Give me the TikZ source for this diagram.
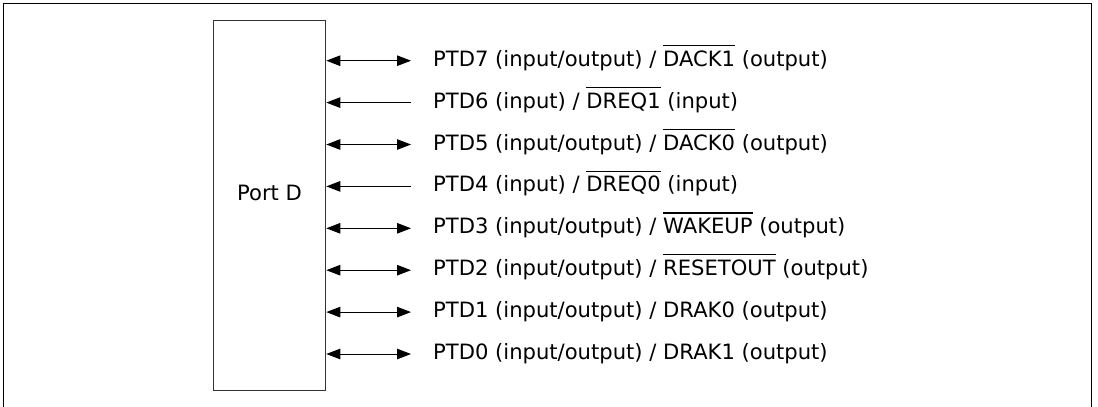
\documentclass[tikz,border=0pt]{standalone}
\usepackage{fontspec}
\setmainfont{DejaVu Sans}
\usetikzlibrary{positioning,arrows.meta}
\newcommand{\ovl}[1]{\setbox0\hbox{#1}\rlap{\rule[20.3pt]{\wd0}{1.1pt}}\box0\relax}

\begin{document}
\begin{tikzpicture}[x=1pt,y=-1pt,
  sig/.style={anchor=west,inner sep=0pt,text height=15pt,text depth=4pt,font=\fontsize{21.1}{25}\selectfont},
  pin/.style={line width=1pt,shorten >=22pt},
  both/.style={pin,{Triangle[length=14pt,width=10.5pt]}-{Triangle[length=14pt,width=10.5pt]}},
  inwd/.style={pin,{Triangle[length=14pt,width=10.5pt]}-},
  portbox/.style={draw=black!80,line width=1.2pt,minimum width=112.4pt,minimum height=370pt,inner sep=0pt}]
  \useasboundingbox (0,0) rectangle (1098,407);
  \draw[line width=1.5pt] (3.5,407) -- (3.5,3.5) -- (1091.5,3.5) -- (1091.5,407);
  \node[portbox] (port) at (269.5,205.7) {};
  \node[font=\fontsize{21.1}{25}\selectfont,inner sep=0pt] (portlbl) at (269.5,192.5) {Port D};
  \node[sig] (t7) at (433,60.7) {PTD7 (input/output) / \ovl{DACK1} (output)};
  \node[sig] (t6) at (433,102.6) {PTD6 (input) / \ovl{DREQ1} (input)};
  \node[sig] (t5) at (433,144.5) {PTD5 (input/output) / \ovl{DACK0} (output)};
  \node[sig] (t4) at (433,186.4) {PTD4 (input) / \ovl{DREQ0} (input)};
  \node[sig] (t3) at (433,228.3) {PTD3 (input/output) / \ovl{WAKEUP} (output)};
  \node[sig] (t2) at (433,270.2) {PTD2 (input/output) / \ovl{RESETOUT} (output)};
  \node[sig] (t1) at (433,312.1) {PTD1 (input/output) / DRAK0 (output)};
  \node[sig] (t0) at (433,354) {PTD0 (input/output) / DRAK1 (output)};
  \draw[both] (port.east |- t7.west) -- (t7.west);
  \draw[inwd] (port.east |- t6.west) -- (t6.west);
  \draw[both] (port.east |- t5.west) -- (t5.west);
  \draw[inwd] (port.east |- t4.west) -- (t4.west);
  \draw[both] (port.east |- t3.west) -- (t3.west);
  \draw[both] (port.east |- t2.west) -- (t2.west);
  \draw[both] (port.east |- t1.west) -- (t1.west);
  \draw[both] (port.east |- t0.west) -- (t0.west);
\end{tikzpicture}
\end{document}
